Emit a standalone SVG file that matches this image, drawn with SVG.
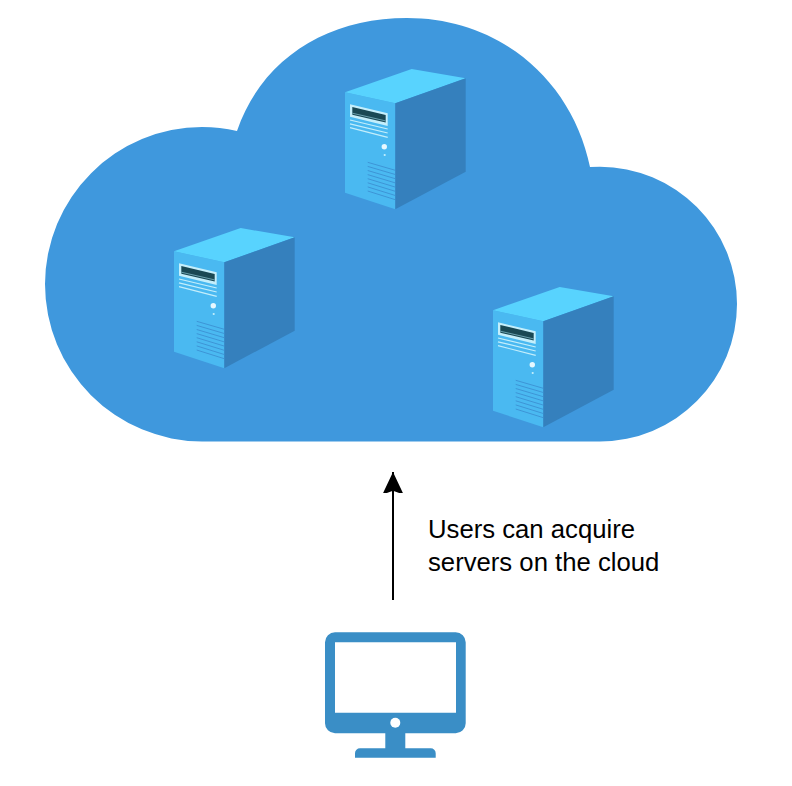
<svg xmlns="http://www.w3.org/2000/svg" width="792" height="786" viewBox="0 0 792 786">
  <style>
    .label { font-family: "Liberation Sans", Arial, sans-serif; font-size: 25.7px; fill: #000; }
    .vent { stroke: #3a8ccf; stroke-width: 0.8; fill: none; }
    .hi { stroke: #c4eefb; stroke-width: 1.2; fill: none; }
    .monitor { fill: #3a8ec6; }
  </style>
  <defs>
    <marker id="arrow" markerUnits="userSpaceOnUse" markerWidth="24" markerHeight="26" refX="21" refY="11" orient="auto">
      <path d="M21 11 L-1.7 0.3 L2.3 11 L-1.7 21.7 Z" fill="#000"/>
    </marker>
    <g id="server">
      <path d="M345 92.3 L395.3 103.3 V209.3 L345 192.7 Z" fill="#4ab9f1"/>
      <path d="M345 92.3 L411.7 69 L465.7 78.3 L395.3 103.3 Z" fill="#58d3fe"/>
      <path d="M395.3 103.3 L465.7 78.3 V171.7 L395.3 209.3 Z" fill="#3580bd"/>
      <path d="M350 104.3 L387.7 113.3 V126 L350 116.7 Z" fill="#c4eefb"/>
      <path d="M352.3 107 L385.7 115 V122.5 L352.3 114.7 Z" fill="#1a4854"/>
      <path d="M352.3 113.2 L385.7 120.9" stroke="#7fb6c4" stroke-width="0.8" fill="none"/>
      <path class="hi" d="M350 120 L387.7 129"/>
      <path class="hi" d="M350 123.8 L387.7 133"/>
      <path class="hi" d="M350 127.7 L387.7 137.3"/>
      <circle cx="384.3" cy="146.7" r="2.7" fill="#e6f8ff"/>
      <circle cx="384.7" cy="155" r="1.1" fill="#c4eefb"/>
      <path class="vent" d="M367.7 162.3 L395.3 170.3"/>
      <path class="vent" d="M367.7 166.4 L395.3 174.5"/>
      <path class="vent" d="M367.7 170.5 L395.3 178.7"/>
      <path class="vent" d="M367.7 174.6 L395.3 182.9"/>
      <path class="vent" d="M367.7 178.7 L395.3 187.1"/>
      <path class="vent" d="M367.7 182.8 L395.3 191.3"/>
      <path class="vent" d="M367.7 186.9 L395.3 195.5"/>
      <path class="vent" d="M367.7 191 L395.3 199.7"/>
    </g>
  </defs>
  <rect width="792" height="786" fill="#fff"/>
  <g id="cloud">
    <path d="M202 441.5 A157.5 157.5 0 0 1 45 284 A157.5 157.5 0 0 1 202 127 Q220 127 237 131 C262 58 328 18 407 18 C500 18 572 80 590 167 Q595 166.7 600 166.7 A137.4 137.4 0 0 1 737 304 A137.5 137.5 0 0 1 600 441.5 Z" fill="#3f98dd"/>
  </g>
  <g id="server-top"><use href="#server"/></g>
  <g id="server-left"><use href="#server" x="-171" y="159"/></g>
  <g id="server-right"><use href="#server" x="148" y="218"/></g>
  <g id="monitor">
    <path class="monitor" fill-rule="evenodd" d="M335 632.3 H455.7 A10 10 0 0 1 465.7 642.3 V723.3 A10 10 0 0 1 455.7 733.3 H405.3 V748.3 H430.7 A5 5 0 0 1 435.7 753.3 V757.7 H355 V753.3 A5 5 0 0 1 360 748.3 H385.3 V733.3 H335 A10 10 0 0 1 325 723.3 V642.3 A10 10 0 0 1 335 632.3 Z M335 642.3 V712.7 H456 V642.3 Z"/>
    <circle cx="395.3" cy="722.7" r="5" fill="#fff"/>
  </g>
  <g id="connectors">
    <line x1="393" y1="600" x2="393" y2="472" stroke="#000" stroke-width="2" marker-end="url(#arrow)"/>
  </g>
  <g id="caption">
    <text class="label" x="428" y="538">Users can acquire</text>
    <text class="label" x="428" y="571">servers on the cloud</text>
  </g>
</svg>
